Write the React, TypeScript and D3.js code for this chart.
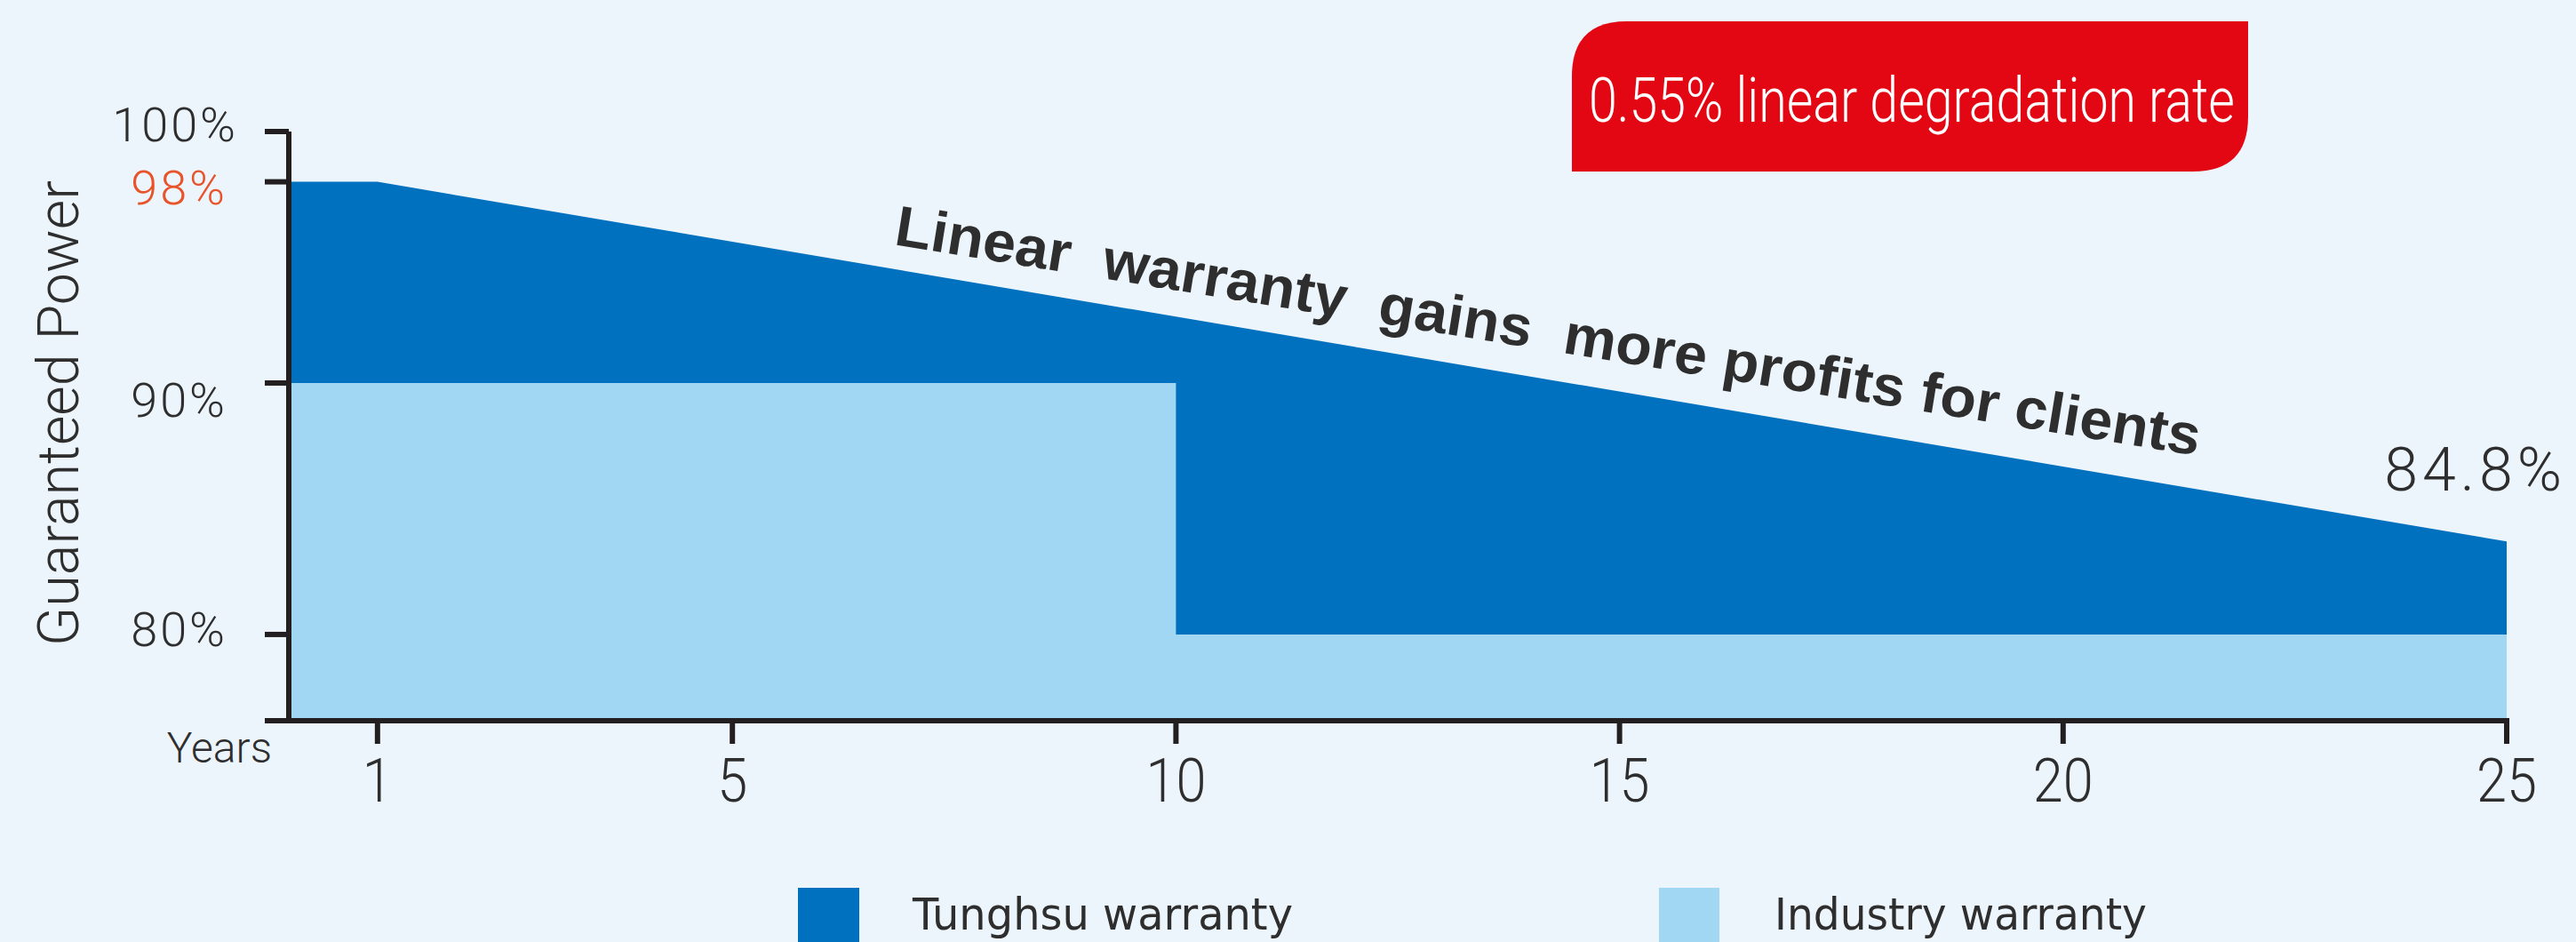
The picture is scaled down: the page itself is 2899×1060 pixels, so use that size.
import React from "react";
import * as d3 from "d3";

// ---- data ----
const yearTicks = [1, 5, 10, 15, 20, 25];
const powerTicks = [100, 98, 90, 80];
const powerTickLabels = ["100%", "98%", "90%", "80%"];
const tunghsuYears = [0, 1, 25];
const tunghsuPower = [98, 98, 83.7];
const industryYears = [0, 10, 10, 25];
const industryPower = [90, 90, 80, 80];
const endLabel = "84.8%";
const rateLabel = "0.55% linear degradation rate";
const slogan = "Linear  warranty  gains  more profits for clients";
const legendLabels = ["Tunghsu warranty", "Industry warranty"];

const W = 2899;
const H = 1060;
const C = {
  bg: "#edf5fc",
  dark: "#0071bf",
  light: "#a2d7f3",
  red: "#e30613",
  axis: "#231f20",
  text: "#2e2e2e",
  orange: "#e8542a",
};

export default function App() {
  const x = d3.scaleLinear().domain([0, 25]).range([325, 2821]);
  const y = d3.scaleLinear().domain([76.57, 100]).range([811, 148]);
  const yBase = y.range()[0];

  const tung = tunghsuYears.map((t, i) => ({ t, v: tunghsuPower[i] }));
  const ind = industryYears.map((t, i) => ({ t, v: industryPower[i] }));

  const area = d3
    .area<{ t: number; v: number }>()
    .x((d) => x(d.t))
    .y0(yBase)
    .y1((d) => y(d.v));

  const labelNudge: Record<number, number> = { 100: -8, 98: 6, 90: 19, 80: -6 };

  // red box path with rounded top-left and bottom-right corners
  const bx0 = 1769, bx1 = 2530, by0 = 24, by1 = 193, r = 62;
  const boxPath = `M${bx0},${by1} L${bx0},${by0 + r} Q${bx0},${by0} ${bx0 + r},${by0} L${bx1},${by0} L${bx1},${by1 - r} Q${bx1},${by1} ${bx1 - r},${by1} Z`;

  const lightFont = "Roboto, 'Liberation Sans', Arial, sans-serif";

  return (
    <svg
      width={W}
      height={H}
      style={{ position: "absolute", left: 0, top: 0, background: C.bg }}
    >
      <rect x={0} y={0} width={W} height={H} fill={C.bg} />
      <path d={area(tung) || ""} fill={C.dark} />
      <path d={area(ind) || ""} fill={C.light} />

      {/* y axis */}
      <line x1={x(0)} x2={x(0)} y1={y(100)} y2={yBase + 3} stroke={C.axis} strokeWidth={6} />
      {powerTicks.map((v, i) => (
        <g key={v}>
          <line x1={x(0) - 27} x2={x(0)} y1={y(v)} y2={y(v)} stroke={C.axis} strokeWidth={6} />
          <text
            x={v === 100 ? 268 : 256}
            y={y(v) + labelNudge[v]}
            dy="0.36em"
            textAnchor="end"
            fontFamily={lightFont}
            fontWeight={300}
            fontSize={54}
            letterSpacing={3}
            fill={v === 98 ? C.orange : C.text}
          >
            {powerTickLabels[i]}
          </text>
        </g>
      ))}
      <text
        transform={`translate(88,465) rotate(-90)`}
        textAnchor="middle"
        fontFamily={lightFont}
        fontWeight={300}
        fontSize={64}
        textLength={524}
        lengthAdjust="spacingAndGlyphs"
        fill={C.text}
      >
        Guaranteed Power
      </text>

      {/* x axis */}
      <line x1={298} x2={x(25) + 3} y1={yBase} y2={yBase} stroke={C.axis} strokeWidth={6} />
      {yearTicks.map((t) => (
        <g key={t}>
          <line x1={x(t)} x2={x(t)} y1={yBase} y2={yBase + 26} stroke={C.axis} strokeWidth={6} />
          <text
            transform={`translate(${x(t)},902) scale(0.9,1)`}
            textAnchor="middle"
            fontFamily={lightFont}
            fontWeight={300}
            fontSize={68}
            fill={C.text}
          >
            {t}
          </text>
        </g>
      ))}
      <text x={306} y={858} textAnchor="end" fontFamily={lightFont} fontWeight={300} fontSize={48} fill={C.text}>
        Years
      </text>

      {/* end label */}
      <text
        x={2888}
        y={552}
        textAnchor="end"
        fontFamily={lightFont}
        fontWeight={300}
        fontSize={68}
        letterSpacing={5}
        fill={C.text}
      >
        {endLabel}
      </text>

      {/* slogan */}
      <text
        transform={`translate(1005,275) rotate(9.2)`}
        fontFamily="'Liberation Sans', Arial, sans-serif"
        fontWeight={700}
        fontSize={64}
        textLength={1487}
        lengthAdjust="spacingAndGlyphs"
        style={{ whiteSpace: "pre" }}
        fill={C.text}
      >
        {slogan}
      </text>

      {/* red box */}
      <path d={boxPath} fill={C.red} />
      <text
        x={1788}
        y={137}
        fontFamily={lightFont}
        fontWeight={300}
        fontSize={70}
        textLength={727}
        lengthAdjust="spacingAndGlyphs"
        fill="#ffffff"
      >
        {rateLabel}
      </text>

      {/* legend */}
      <rect x={898} y={999} width={69} height={80} fill={C.dark} />
      <text
        x={1027}
        y={1046}
        fontFamily="'DejaVu Sans', 'Noto Sans', sans-serif"
        fontSize={50}
        textLength={428}
        lengthAdjust="spacingAndGlyphs"
        fill={C.text}
      >
        {legendLabels[0]}
      </text>
      <rect x={1867} y={999} width={68} height={80} fill={C.light} />
      <text
        x={1997}
        y={1046}
        fontFamily="'DejaVu Sans', 'Noto Sans', sans-serif"
        fontSize={50}
        textLength={419}
        lengthAdjust="spacingAndGlyphs"
        fill={C.text}
      >
        {legendLabels[1]}
      </text>
    </svg>
  );
}
